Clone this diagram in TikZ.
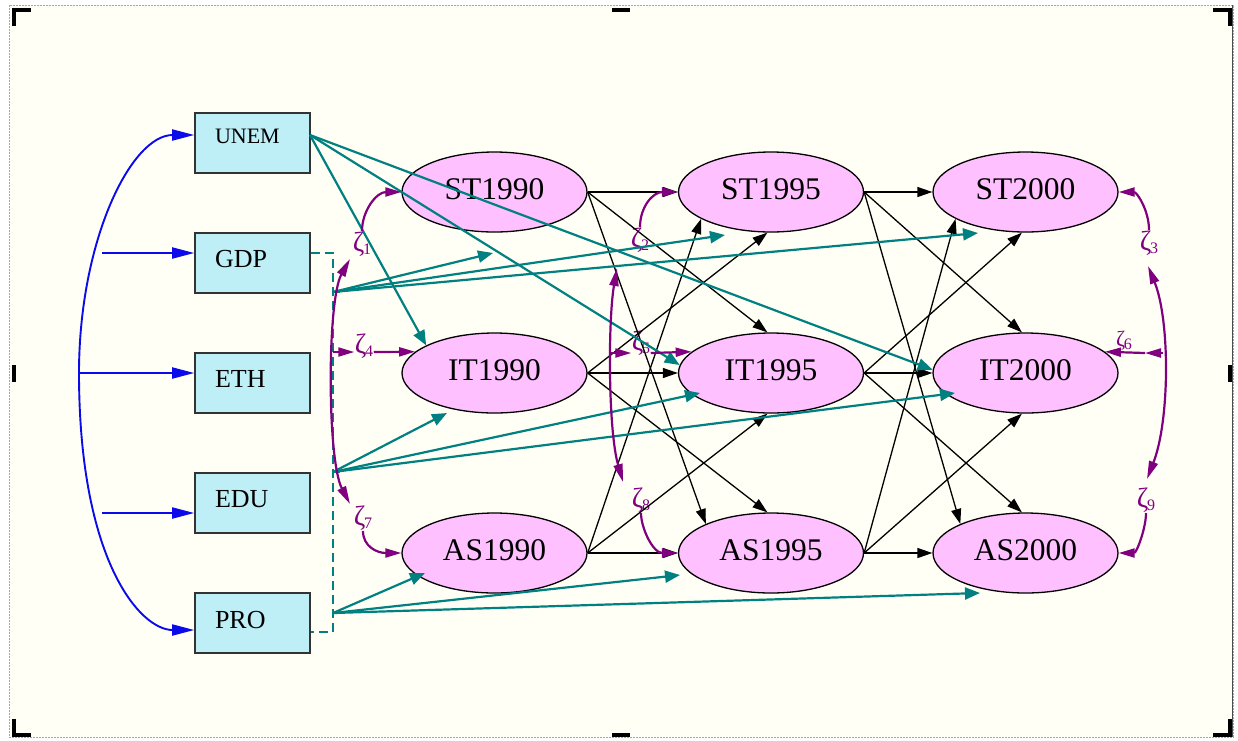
\documentclass[tikz,border=0pt]{standalone}
\usepackage{fontspec}
\setmainfont{Liberation Serif}
\usetikzlibrary{arrows.meta,calc,shapes.geometric}
\definecolor{bgc}{RGB}{255,255,245}
\definecolor{boxc}{RGB}{190,238,246}
\definecolor{pinkc}{RGB}{255,192,255}
\definecolor{tealc}{RGB}{0,128,128}
\definecolor{purc}{RGB}{128,0,128}
\definecolor{bluec}{RGB}{10,10,235}
\newcommand{\zsub}[1]{\kern-1.5pt\raisebox{-3pt}{\fontsize{16}{16}\selectfont #1}}
\begin{document}
\begin{tikzpicture}[x=1pt,y=-1pt,
  box/.style={draw=black!80, line width=1.6pt, fill=boxc, minimum width=115pt, minimum height=60pt,
    inner xsep=20pt, inner ysep=0pt, text height=8pt, text depth=0pt, font=\fontsize{26}{28}\selectfont},
  lat/.style={ellipse, draw=black, line width=1.3pt, fill=pinkc, minimum width=185pt, minimum height=80pt,
    inner sep=0pt, text height=15pt, text depth=0pt, font=\fontsize{31.5}{33}\selectfont},
  blk/.style={draw=black, line width=1.3pt, -{Triangle[length=15pt,width=10pt]}},
  tl/.style={draw=tealc, line width=2.2pt, -{Triangle[length=15pt,width=12pt]}},
  tldash/.style={draw=tealc, line width=2pt, dash pattern=on 9pt off 5pt},
  bl/.style={draw=bluec, line width=1.9pt, -{Triangle[length=22pt,width=11pt]}},
  pu/.style={draw=purc, line width=2.2pt, -{Triangle[length=16pt,width=9pt]}},
  pub/.style={draw=purc, line width=2.2pt, {Triangle[length=18pt,width=9pt]}-{Triangle[length=18pt,width=9pt]}},
  zl/.style={text=purc, inner sep=0.5pt, font=\fontsize{28}{28}\selectfont},
  cornermark/.style={line width=4pt, line cap=butt}
]
\useasboundingbox (0,0) rectangle (1238,740);
% page and frame
\fill[white] (0,0) rectangle (1238,740);
\fill[bgc] (9,5) rectangle (1233,737);
\draw[gray!70, line width=1pt, dash pattern=on 2pt off 1pt] (9,5) rectangle (1233,737);
\draw[black!70, line width=1pt] (1232,5) -- (1232,737);
\draw[cornermark] (14,26) -- (14,10) -- (31,10);
\draw[cornermark] (1213,10) -- (1230,10) -- (1230,26);
\draw[cornermark] (14,719) -- (14,735) -- (31,735);
\draw[cornermark] (1213,735) -- (1230,735) -- (1230,719);
\draw[cornermark] (14,365) -- (14,382);
\draw[cornermark] (1230,365) -- (1230,382);
\draw[cornermark] (612,10) -- (630,10);
\draw[cornermark] (612,735) -- (630,735);

% observed variables
\node[box, text height=0pt] (UNEM) at (252.5,143) {\makebox[75pt][l]{\fontsize{22}{24}\selectfont UNEM}};
\node[box] (GDP) at (252.5,263) {\makebox[75pt][l]{GDP}};
\node[box] (ETH) at (252.5,383) {\makebox[75pt][l]{ETH}};
\node[box] (EDU) at (252.5,503) {\makebox[75pt][l]{EDU}};
\node[box, text height=10pt] (PRO) at (252.5,623) {\makebox[75pt][l]{PRO}};

% latent variables
\node[lat] (ST1990) at (494.5,192) {ST1990};
\node[lat] (IT1990) at (494.5,373) {IT1990};
\node[lat] (AS1990) at (494.5,553) {AS1990};
\node[lat] (ST1995) at (771,192) {ST1995};
\node[lat] (IT1995) at (771,373) {IT1995};
\node[lat] (AS1995) at (771,553) {AS1995};
\node[lat] (ST2000) at (1025.5,192) {ST2000};
\node[lat] (IT2000) at (1025.5,373) {IT2000};
\node[lat] (AS2000) at (1025.5,553) {AS2000};

% disturbance labels
\node[zl] (z1) at (362,244) {ζ\zsub{1}};
\node[zl] (z4) at (364,346) {ζ\zsub{4}};
\node[zl] (z7) at (363,518) {ζ\zsub{7}};
\node[zl] (z2) at (640,240) {ζ\zsub{2}};
\node[zl] (z5) at (641,343) {ζ\zsub{5}};
\node[zl] (z8) at (641,500) {ζ\zsub{8}};
\node[zl] (z3) at (1149,243) {ζ\zsub{3}};
\node[zl, font=\fontsize{22}{22}\selectfont] (z6) at (1124,341) {ζ\zsub{6}};
\node[zl] (z9) at (1146,500) {ζ\zsub{9}};

% coordinates
\coordinate (bL) at (79,373);
\coordinate (bG) at (102,253);
\coordinate (bE) at (102,513);
\coordinate (uS) at (310,135);
\coordinate (gS) at (333,292);
\coordinate (eS) at (333,472);
\coordinate (pS) at (333,613);
\coordinate (d2) at (333,253);
\coordinate (d3) at (333,632);
\coordinate (k1a) at (350,259);
\coordinate (k1b) at (350,504);
\coordinate (k2a) at (617,268);
\coordinate (k2b) at (623,482);
\coordinate (k3a) at (1148,266);
\coordinate (k3b) at (1147,479);
\coordinate (c4) at (333,352);
\coordinate (c5) at (611,353);
\coordinate (c6) at (1163,353);
\coordinate (j6) at (1145,353);

% blue
\draw[bl] (bL) .. controls (79,241) and (131,135) .. (UNEM.west |- uS);
\draw[bl] (bL) .. controls (79,560) and (140,630) .. ($(PRO.west)+(0,7)$);
\draw[bl] (bG) -- (GDP.west |- bG);
\draw[bl] (bL) -- (ETH.west |- bL);
\draw[bl] (bE) -- (EDU.west |- bE);

% dashed teal
\draw[tldash] (GDP.east |- d2) -- (d2) -- (d3) -- (PRO.east |- d3);
\draw[tealc, line width=2pt] (gS) -- ++(7,0);
\draw[tealc, line width=2pt] (eS) -- ++(7,0);
\draw[tealc, line width=2pt] (pS) -- ++(7,0);

% black structural paths
\foreach \a/\b in {1990/1995, 1995/2000}{
  \draw[blk] (ST\a.east) -- (ST\b.west);
  \draw[blk] (ST\a.east) -- (IT\b.95);
  \draw[blk] (ST\a.east) -- (AS\b.156);
  \draw[blk] (IT\a.east) -- (ST\b.265);
  \draw[blk] (IT\a.east) -- (IT\b.west);
  \draw[blk] (IT\a.east) -- (AS\b.95);
  \draw[blk] (AS\a.east) -- (ST\b.201);
  \draw[blk] (AS\a.east) -- (IT\b.265);
  \draw[blk] (AS\a.east) -- (AS\b.west);
}

% teal paths
\draw[tl] (uS) -- (IT1990.158);
\draw[tl] (uS) -- (IT1995.175);
\draw[tl] (uS) -- (IT2000.178);
\draw[tl] (gS) -- ($(ST1990)+(-1.5,61)$);
\draw[tl] (gS) -- ($(ST1995)+(-46,43)$);
\draw[tl] (gS) -- ($(ST2000)+(-47.5,41)$);
\draw[tl] (eS) -- ($(IT1990)+(-47.5,40)$);
\draw[tl] (eS) -- ($(IT1995)+(-71,20)$);
\draw[tl] (eS) -- ($(IT2000)+(-70.5,20)$);
\draw[tl] (pS) -- ($(AS1990)+(-69.5,20)$);
\draw[tl] (pS) -- ($(AS1995)+(-91,22)$);
\draw[tl] (pS) -- ($(AS2000)+(-45.5,40)$);

% purple disturbances
\draw[pub] (k1a) .. controls (327,300) and (327,460) .. (k1b);
\draw[pub] (k2a) .. controls (608,320) and (608,430) .. (k2b);
\draw[pub] (k3a) .. controls (1170,320) and (1170,420) .. (k3b);
\draw[pu] (z1.north) .. controls +(0,-20) and +(-25,0) .. (ST1990.west);
\draw[pu] (z7.south) .. controls +(0,15) and +(-25,0) .. (AS1990.west);
\draw[pu] (z2.north) .. controls +(0,-20) and +(-25,0) .. (ST1995.west);
\draw[pu] (z8.south) .. controls +(0,15) and +(-25,0) .. (AS1995.west);
\draw[pu] (z3.north) .. controls +(0,-20) and +(18,0) .. (ST2000.east);
\draw[pu] (z9.south) .. controls +(0,15) and +(18,0) .. (AS2000.east);
\draw[pu] (c4) -- (z4.west |- c4);
\draw[pu] (z4.east |- c4) -- (IT1990.165);
\draw[pu] (c5) -- (z5.west |- c5);
\draw[pu] (z5.east |- c5) -- (IT1995.165);
\draw[pu] (c6) -- (j6);
\draw[pu] (j6) -- (IT2000.15);
\end{tikzpicture}
\end{document}
